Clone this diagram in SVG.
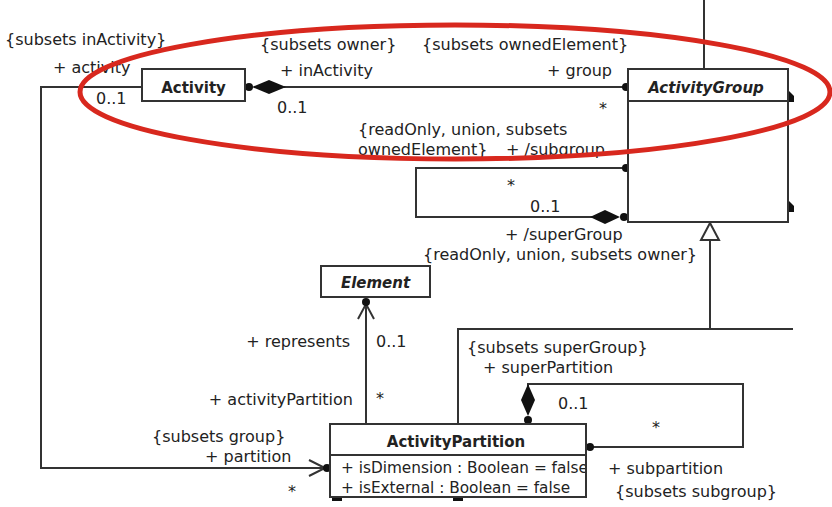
<svg xmlns="http://www.w3.org/2000/svg" width="832" height="507" viewBox="0 0 832 507">
<style>
  text { font-family: "DejaVu Sans", "Liberation Sans", sans-serif; font-size: 16px; fill: #222; }
  .title { font-size: 15px; font-weight: bold; text-anchor: middle; }
  .abstract { font-style: italic; }
  .attr { font-size: 15.3px; }
  .box { fill: #fff; stroke: #333; stroke-width: 2; }
  .line { fill: none; stroke: #333; stroke-width: 2; }
  .solid { fill: #111; stroke: none; }
  .end { text-anchor: end; }
</style>
<defs>
  <clipPath id="apClip"><rect x="330" y="424" width="255" height="73"/></clipPath>
</defs>
<rect x="0" y="0" width="832" height="507" fill="#fff"/>

<g id="connectors">
  <line class="line" x1="704" y1="0" x2="704" y2="69"/>
  <line class="line" x1="284" y1="87" x2="626" y2="87"/>
  <circle class="solid" cx="249" cy="87" r="4"/>
  <polygon class="solid" points="252,87 269,80 286,87 269,94"/>
  <circle class="solid" cx="626" cy="87" r="4"/>
  <polyline class="line" points="626,168 416,168 416,217 592,217"/>
  <circle class="solid" cx="626" cy="168" r="4"/>
  <polygon class="solid" points="590,217 605,210 620,217 605,224"/>
  <circle class="solid" cx="624" cy="217" r="4"/>
  <polygon class="solid" points="789,91 794,96 794,102 789,102"/>
  <polygon class="solid" points="789,201 794,206 794,212 789,212"/>
  <polyline class="line" points="458,424 458,329 793,329"/>
  <line class="line" x1="710" y1="329" x2="710" y2="240"/>
  <polygon points="710,223 701,240 719,240" fill="#fff" stroke="#333" stroke-width="2"/>
  <line class="line" x1="366" y1="304" x2="366" y2="424"/>
  <polyline class="line" points="358,319 366,304 374,319"/>
  <circle class="solid" cx="366" cy="302" r="4"/>
  <polyline class="line" points="142,87 41,87 41,468 325,468"/>
  <polyline class="line" points="309,460 325,468 309,476"/>
  <circle class="solid" cx="327" cy="468" r="4"/>
  <polyline class="line" points="528,386 528,384 743,384 743,447 592,447"/>
  <polygon class="solid" points="528,384 535,400 528,416 521,400"/>
  <circle class="solid" cx="528" cy="420" r="4"/>
  <circle class="solid" cx="590" cy="447" r="4"/>
  <rect class="solid" x="332" y="497" width="10" height="4"/>
  <rect class="solid" x="453" y="497" width="10" height="4"/>
</g>

<g id="labels">
  <text x="5" y="45">{subsets inActivity}</text>
  <text x="53" y="73">+ activity</text>
  <text x="96" y="104">0..1</text>
  <text x="260" y="50">{subsets owner}</text>
  <text x="280" y="76">+ inActivity</text>
  <text x="277" y="113">0..1</text>
  <text x="422" y="50">{subsets ownedElement}</text>
  <text x="612" y="76" class="end">+ group</text>
  <text x="599" y="114">*</text>
  <text x="358" y="135">{readOnly, union, subsets</text>
  <text x="358" y="155">ownedElement}</text>
  <text x="506" y="155">+ /subgroup</text>
  <text x="507" y="191">*</text>
  <text x="530" y="212">0..1</text>
  <text x="505" y="240">+ /superGroup</text>
  <text x="423" y="260">{readOnly, union, subsets owner}</text>
  <text x="350" y="347" class="end">+ represents</text>
  <text x="376" y="347">0..1</text>
  <text x="353" y="405" class="end">+ activityPartition</text>
  <text x="376" y="404">*</text>
  <text x="152" y="442">{subsets group}</text>
  <text x="205" y="462">+ partition</text>
  <text x="288" y="497">*</text>
  <text x="467" y="353">{subsets superGroup}</text>
  <text x="483" y="373">+ superPartition</text>
  <text x="558" y="409">0..1</text>
  <text x="652" y="433">*</text>
  <text x="608" y="474">+ subpartition</text>
  <text x="615" y="497">{subsets subgroup}</text>
</g>

<g id="Activity">
  <rect class="box" x="142" y="69" width="103" height="32"/>
  <text class="title" x="193.5" y="93">Activity</text>
</g>

<g id="ActivityGroup">
  <rect class="box" x="628" y="69" width="160" height="153"/>
  <line class="line" x1="628" y1="101" x2="788" y2="101"/>
  <text class="title abstract" x="706" y="93">ActivityGroup</text>
</g>

<g id="Element">
  <rect class="box" x="321" y="266" width="109" height="31"/>
  <text class="title abstract" x="375.5" y="288">Element</text>
</g>

<g id="ActivityPartition">
  <rect class="box" x="330" y="424" width="256" height="73"/>
  <line class="line" x1="330" y1="455" x2="586" y2="455"/>
  <text class="title" x="456" y="447">ActivityPartition</text>
  <g clip-path="url(#apClip)">
    <text class="attr" x="341" y="473">+ isDimension : Boolean = false</text>
    <text class="attr" x="341" y="493">+ isExternal : Boolean = false</text>
  </g>
</g>

<g id="highlight">
  <ellipse cx="455" cy="92" rx="375" ry="67" fill="none" stroke="#d8281e" stroke-width="5"/>
</g>
</svg>
